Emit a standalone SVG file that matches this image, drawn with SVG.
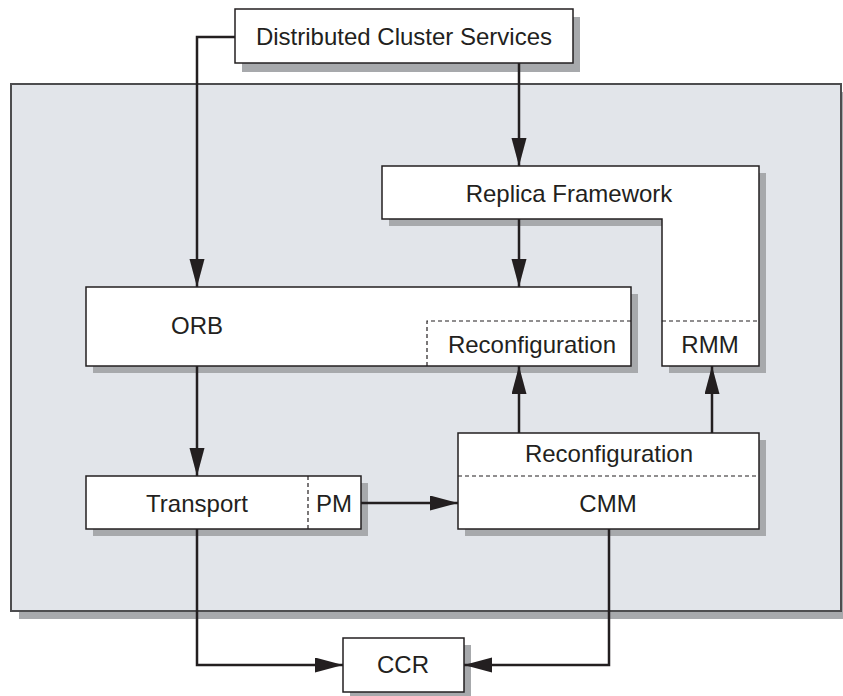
<svg xmlns="http://www.w3.org/2000/svg" width="843" height="696" viewBox="0 0 843 696">
  <style>
    .box { fill: #ffffff; stroke: #231f20; stroke-width: 1.5; }
    .shadow { fill: #a7a9ac; stroke: none; }
    .dash { fill: none; stroke: #231f20; stroke-width: 1.2; stroke-dasharray: 4 3; }
    .wire { fill: none; stroke: #231f20; stroke-width: 2.5; marker-end: url(#arrow); }
    text { font-family: "Liberation Sans", Arial, Helvetica, sans-serif; font-size: 24px; fill: #231f20; text-anchor: middle; }
  </style>
  <defs>
    <marker id="arrow" markerUnits="userSpaceOnUse" markerWidth="30" markerHeight="16" refX="28" refY="7.5" orient="auto">
      <path d="M0,0 L28,7.5 L0,15 Z" fill="#231f20"/>
    </marker>
  </defs>

  <!-- cluster container -->
  <g id="cluster">
    <rect class="shadow" x="19" y="92" width="830" height="527"/>
    <rect x="11" y="84" width="830" height="527" fill="#e2e5ea" stroke="#4d4d4f" stroke-width="2"/>
  </g>

  <g id="dcs">
    <rect class="shadow" x="242" y="17" width="338" height="55"/>
    <rect class="box" x="235" y="9" width="338" height="54"/>
    <text x="404" y="45">Distributed Cluster Services</text>
  </g>

  <g id="replica-framework">
    <polygon class="shadow" points="389,173 766,173 766,373 669,373 669,226 389,226"/>
    <polygon class="box" points="382,166 759,166 759,366 662,366 662,219 382,219"/>
    <line class="dash" x1="662" y1="321" x2="759" y2="321"/>
    <text x="569" y="202">Replica Framework</text>
    <text x="710" y="353">RMM</text>
  </g>

  <g id="orb">
    <rect class="shadow" x="93" y="294" width="545" height="79"/>
    <rect class="box" x="86" y="287" width="545" height="79"/>
    <polyline class="dash" points="427,366 427,321 631,321"/>
    <text x="197" y="334">ORB</text>
    <text x="532" y="353">Reconfiguration</text>
  </g>

  <g id="transport">
    <rect class="shadow" x="93" y="483" width="275" height="53"/>
    <rect class="box" x="86" y="476" width="275" height="53"/>
    <line class="dash" x1="308" y1="476" x2="308" y2="529"/>
    <text x="197" y="512">Transport</text>
    <text x="334" y="512">PM</text>
  </g>

  <g id="cmm">
    <rect class="shadow" x="465" y="440" width="301" height="96"/>
    <rect class="box" x="458" y="433" width="301" height="96"/>
    <line class="dash" x1="458" y1="476" x2="759" y2="476"/>
    <text x="609" y="462">Reconfiguration</text>
    <text x="608" y="512">CMM</text>
  </g>

  <g id="ccr">
    <rect class="shadow" x="350" y="645" width="121" height="54"/>
    <rect class="box" x="343" y="638" width="121" height="54"/>
    <text x="403" y="673">CCR</text>
  </g>

  <g id="connectors">
    <path class="wire" d="M235,37 H197 V287"/>
    <path class="wire" d="M519,63 V166"/>
    <path class="wire" d="M519,219 V287"/>
    <path class="wire" d="M197,366 V476"/>
    <path class="wire" d="M361,503 H458"/>
    <path class="wire" d="M519,433 V366"/>
    <path class="wire" d="M712,433 V366"/>
    <path class="wire" d="M197,529 V665 H343"/>
    <path class="wire" d="M609,529 V665 H464"/>
  </g>
</svg>
